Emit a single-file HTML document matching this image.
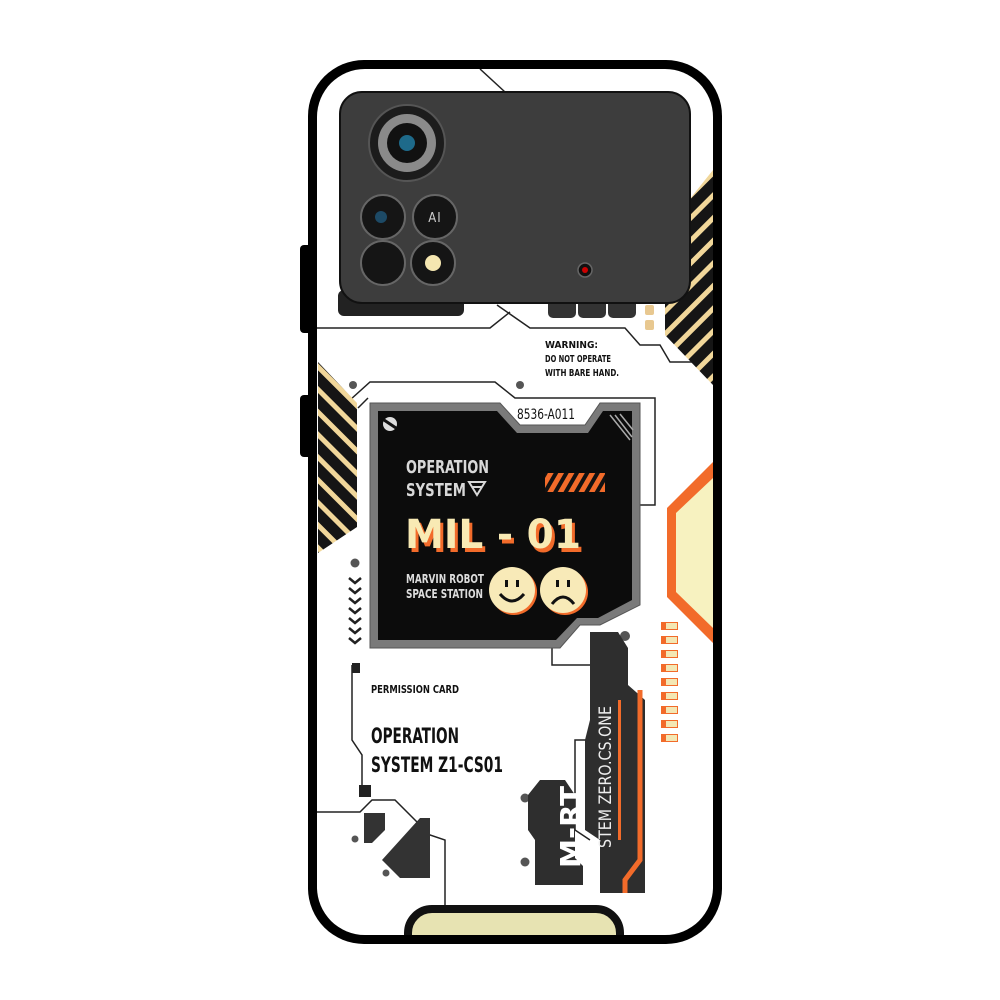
<!DOCTYPE html>
<html><head><meta charset="utf-8"><style>
html,body{margin:0;padding:0;background:#fff;width:1000px;height:1000px;overflow:hidden}
text{font-family:"DejaVu Sans Condensed","Liberation Sans Narrow","Liberation Sans",sans-serif;font-weight:bold}
</style></head><body>
<svg width="1000" height="1000" viewBox="0 0 1000 1000" xmlns="http://www.w3.org/2000/svg">
<defs>
<pattern id="st" width="16" height="16" patternUnits="userSpaceOnUse" patternTransform="rotate(45)">
<rect width="16" height="16" fill="#151515"/><rect y="0" width="16" height="5" fill="#f1d79a"/></pattern>
<pattern id="st2" width="16" height="16" patternUnits="userSpaceOnUse" patternTransform="rotate(-45)">
<rect width="16" height="16" fill="#151515"/><rect y="0" width="16" height="5" fill="#f1d79a"/></pattern>
<pattern id="os" width="9" height="9" patternUnits="userSpaceOnUse" patternTransform="rotate(30)">
<rect width="9" height="9" fill="#111"/><rect width="5" height="9" fill="#f26b2a"/></pattern>
<clipPath id="ph"><rect x="317" y="69" width="396" height="866" rx="48"/></clipPath>
</defs>
<rect x="300" y="245" width="14" height="88" rx="4" fill="#000"/>
<rect x="300" y="395" width="14" height="62" rx="4" fill="#000"/>
<rect x="308" y="60" width="414" height="884" rx="56" fill="#000"/>
<rect x="317" y="69" width="396" height="866" rx="48" fill="#fff"/>
<g clip-path="url(#ph)">
<g stroke="#222" stroke-width="1.5" fill="none">
<path d="M480 69 L505 92"/>
<path d="M317 328 L490 328 L510 312"/>
<path d="M497 305 L530 328 L625 328 L640 345 L660 345 L670 362 L713 362"/>
<path d="M687 297 L713 297"/>
<path d="M350 400 L370 382 L495 382 L515 398 L600 398 L655 398 L655 505 L640 505"/>
<path d="M358 408 L368 398"/>
<path d="M352 665 L352 740 L362 755 L362 785"/>
<path d="M317 812 L360 812 L372 800 L395 800 L430 835 L445 840 L445 935"/>
<path d="M552 645 L552 665 L590 665"/>
<path d="M588 740 L575 740 L575 830 L590 840"/>
</g>
<g fill="#555"><circle cx="353" cy="385" r="4"/><circle cx="520" cy="385" r="4"/><circle cx="355" cy="563" r="4.5"/><circle cx="525" cy="798" r="4.5"/><circle cx="525" cy="862" r="4.5"/><circle cx="355" cy="839" r="3.5"/><circle cx="386" cy="873" r="3.5"/><circle cx="625" cy="636" r="5"/></g>
<g stroke="#222" stroke-width="2.5" fill="none">
<path d="M349 578 l6 5 l6 -5"/><path d="M349 588 l6 5 l6 -5"/><path d="M349 598 l6 5 l6 -5"/><path d="M349 608 l6 5 l6 -5"/><path d="M349 618 l6 5 l6 -5"/><path d="M349 628 l6 5 l6 -5"/><path d="M349 638 l6 5 l6 -5"/></g>
<polygon points="318,362 357,403 357,527 318,553" fill="url(#st)"/>
<polygon points="713,170 665,230 665,335 713,385" fill="url(#st2)"/>
<polygon points="713,462 667,508 667,597 713,643" fill="#f26b2a"/>
<polygon points="713,478 676,513 676,592 713,628" fill="#f7f2c0"/>
<g><rect x="661" y="622" width="17" height="8" fill="#f26b2a"/><rect x="661" y="636" width="17" height="8" fill="#f26b2a"/><rect x="661" y="650" width="17" height="8" fill="#f26b2a"/><rect x="661" y="664" width="17" height="8" fill="#f26b2a"/><rect x="661" y="678" width="17" height="8" fill="#f26b2a"/><rect x="661" y="692" width="17" height="8" fill="#f26b2a"/><rect x="661" y="706" width="17" height="8" fill="#f26b2a"/><rect x="661" y="720" width="17" height="8" fill="#f26b2a"/><rect x="661" y="734" width="17" height="8" fill="#f26b2a"/></g>
<g fill="#f3e7b4"><rect x="666" y="623" width="11" height="6"/><rect x="666" y="637" width="11" height="6"/><rect x="666" y="651" width="11" height="6"/><rect x="666" y="665" width="11" height="6"/><rect x="666" y="679" width="11" height="6"/><rect x="666" y="693" width="11" height="6"/><rect x="666" y="707" width="11" height="6"/><rect x="666" y="721" width="11" height="6"/><rect x="666" y="735" width="11" height="6"/></g>
<rect x="548" y="296" width="28" height="22" rx="5" fill="#333"/>
<rect x="578" y="296" width="28" height="22" rx="5" fill="#333"/>
<rect x="608" y="296" width="28" height="22" rx="5" fill="#333"/>
<rect x="653" y="92" width="9" height="11" rx="2" fill="#e8c890"/>
<rect x="645" y="305" width="9" height="10" rx="2" fill="#e8c890"/>
<rect x="645" y="320" width="9" height="10" rx="2" fill="#e8c890"/>
<rect x="338" y="290" width="126" height="26" rx="6" fill="#222"/>
<rect x="340" y="92" width="350" height="211" rx="22" fill="#3d3d3d" stroke="#111" stroke-width="2"/>
<circle cx="407" cy="143" r="38" fill="#1c1c1c" stroke="#555" stroke-width="2"/>
<circle cx="407" cy="143" r="29" fill="#8a8a8a"/>
<circle cx="407" cy="143" r="20" fill="#111"/>
<circle cx="407" cy="143" r="8" fill="#1e6a8a"/>
<g fill="#151515" stroke="#666" stroke-width="2">
<circle cx="383" cy="217" r="22"/><circle cx="435" cy="217" r="22"/><circle cx="383" cy="263" r="22"/><circle cx="433" cy="263" r="22"/></g>
<circle cx="381" cy="217" r="6" fill="#1d4a66"/>
<text x="435" y="222" font-size="13" fill="#ccc" text-anchor="middle" style="font-weight:normal;letter-spacing:1px">AI</text>
<circle cx="433" cy="263" r="8" fill="#f4e6b0"/>
<circle cx="585" cy="270" r="7" fill="#111" stroke="#666" stroke-width="1.5"/>
<circle cx="585" cy="270" r="3" fill="#c00"/>
<text x="545" y="348" font-size="10" fill="#111" textLength="53" lengthAdjust="spacingAndGlyphs">WARNING:</text>
<text x="545" y="362" font-size="10" fill="#111" textLength="66" lengthAdjust="spacingAndGlyphs">DO NOT OPERATE</text>
<text x="545" y="376" font-size="10" fill="#111" textLength="74" lengthAdjust="spacingAndGlyphs">WITH BARE HAND.</text>
<polygon points="370,403 500,403 520,425 585,425 600,403 640,403 640,605 600,625 580,625 560,648 370,648" fill="#7a7a7a" stroke="#555" stroke-width="1"/>
<polygon points="378,411 497,411 517,433 588,433 603,411 632,411 632,600 598,618 577,618 556,640 378,640" fill="#0c0c0c"/>
<path d="M610 415 L630 440 M615 415 L632 437 M620 414 L633 430" stroke="#aaa" stroke-width="1.5"/>
<text x="517" y="419" font-size="14" fill="#111" textLength="58" lengthAdjust="spacingAndGlyphs" style="font-weight:normal">8536-A011</text>
<circle cx="390" cy="424" r="7" fill="#ddd"/><path d="M384 420 L396 428" stroke="#111" stroke-width="3"/>
<text x="406" y="473" font-size="18" fill="#d8d8d8" textLength="83" lengthAdjust="spacingAndGlyphs">OPERATION</text>
<text x="406" y="496" font-size="18" fill="#d8d8d8" textLength="60" lengthAdjust="spacingAndGlyphs">SYSTEM</text>
<path d="M469 482 L485 482 L477 495 Z M472 487 L482 487" stroke="#d8d8d8" stroke-width="2" fill="none"/>
<rect x="545" y="473" width="60" height="19" fill="url(#os)"/>
<text x="408" y="552" font-size="40" fill="#f26b2a" textLength="176" lengthAdjust="spacingAndGlyphs" style="font-weight:900">MIL - 01</text>
<text x="405" y="548" font-size="40" fill="#f8eab4" textLength="176" lengthAdjust="spacingAndGlyphs" style="font-weight:900">MIL - 01</text>
<text x="406" y="583" font-size="12" fill="#ddd" textLength="78" lengthAdjust="spacingAndGlyphs">MARVIN ROBOT</text>
<text x="406" y="598" font-size="12" fill="#ddd" textLength="77" lengthAdjust="spacingAndGlyphs">SPACE STATION</text>
<circle cx="514" cy="592" r="23" fill="#f26b2a"/><circle cx="512" cy="590" r="23" fill="#f8eab8"/>
<circle cx="565" cy="592" r="23" fill="#f26b2a"/><circle cx="563" cy="590" r="23" fill="#f8eab8"/>
<g fill="#111"><rect x="505" y="580" width="3" height="7"/><rect x="516" y="580" width="3" height="7"/><rect x="556" y="580" width="3" height="7"/><rect x="567" y="580" width="3" height="7"/></g>
<path d="M500 594 Q512 608 524 594" stroke="#111" stroke-width="3" fill="none"/>
<path d="M552 604 Q563 590 574 604" stroke="#111" stroke-width="3" fill="none"/>
<text x="371" y="693" font-size="11" fill="#111" textLength="88" lengthAdjust="spacingAndGlyphs">PERMISSION CARD</text>
<text x="371" y="743" font-size="21" fill="#111" textLength="88" lengthAdjust="spacingAndGlyphs">OPERATION</text>
<text x="371" y="772" font-size="21" fill="#111" textLength="132" lengthAdjust="spacingAndGlyphs">SYSTEM Z1-CS01</text>
<rect x="352" y="663" width="8" height="10" fill="#222"/>
<rect x="359" y="785" width="12" height="12" fill="#222"/>
<polygon points="364,813 385,813 385,830 372,843 364,843" fill="#333"/>
<polygon points="382,860 420,818 430,818 430,878 400,878" fill="#333"/>
<polygon points="590,632 618,632 628,648 628,685 645,700 645,893 600,893 600,840 585,830 585,740 590,720" fill="#2e2e2e"/>
<path d="M640 690 L640 860 L625 880 L625 893" stroke="#f26b2a" stroke-width="5" fill="none"/>
<rect x="618" y="700" width="3" height="140" fill="#f26b2a"/>
<text transform="translate(611,848) rotate(-90)" font-size="17" fill="#eee" textLength="142" lengthAdjust="spacingAndGlyphs" style="font-weight:normal">STEM ZERO.CS.ONE</text>
<polygon points="540,780 565,780 575,795 575,858 583,866 583,885 535,885 535,840 528,830 528,795" fill="#2e2e2e"/>
<text transform="translate(580,868) rotate(-90)" font-size="28" fill="#fff" textLength="82" lengthAdjust="spacingAndGlyphs" style="font-weight:900">M-RT</text>
<rect x="408" y="909" width="212" height="60" rx="24" fill="#e7e3b2" stroke="#111" stroke-width="8"/>
</g>
</svg>
</body></html>
